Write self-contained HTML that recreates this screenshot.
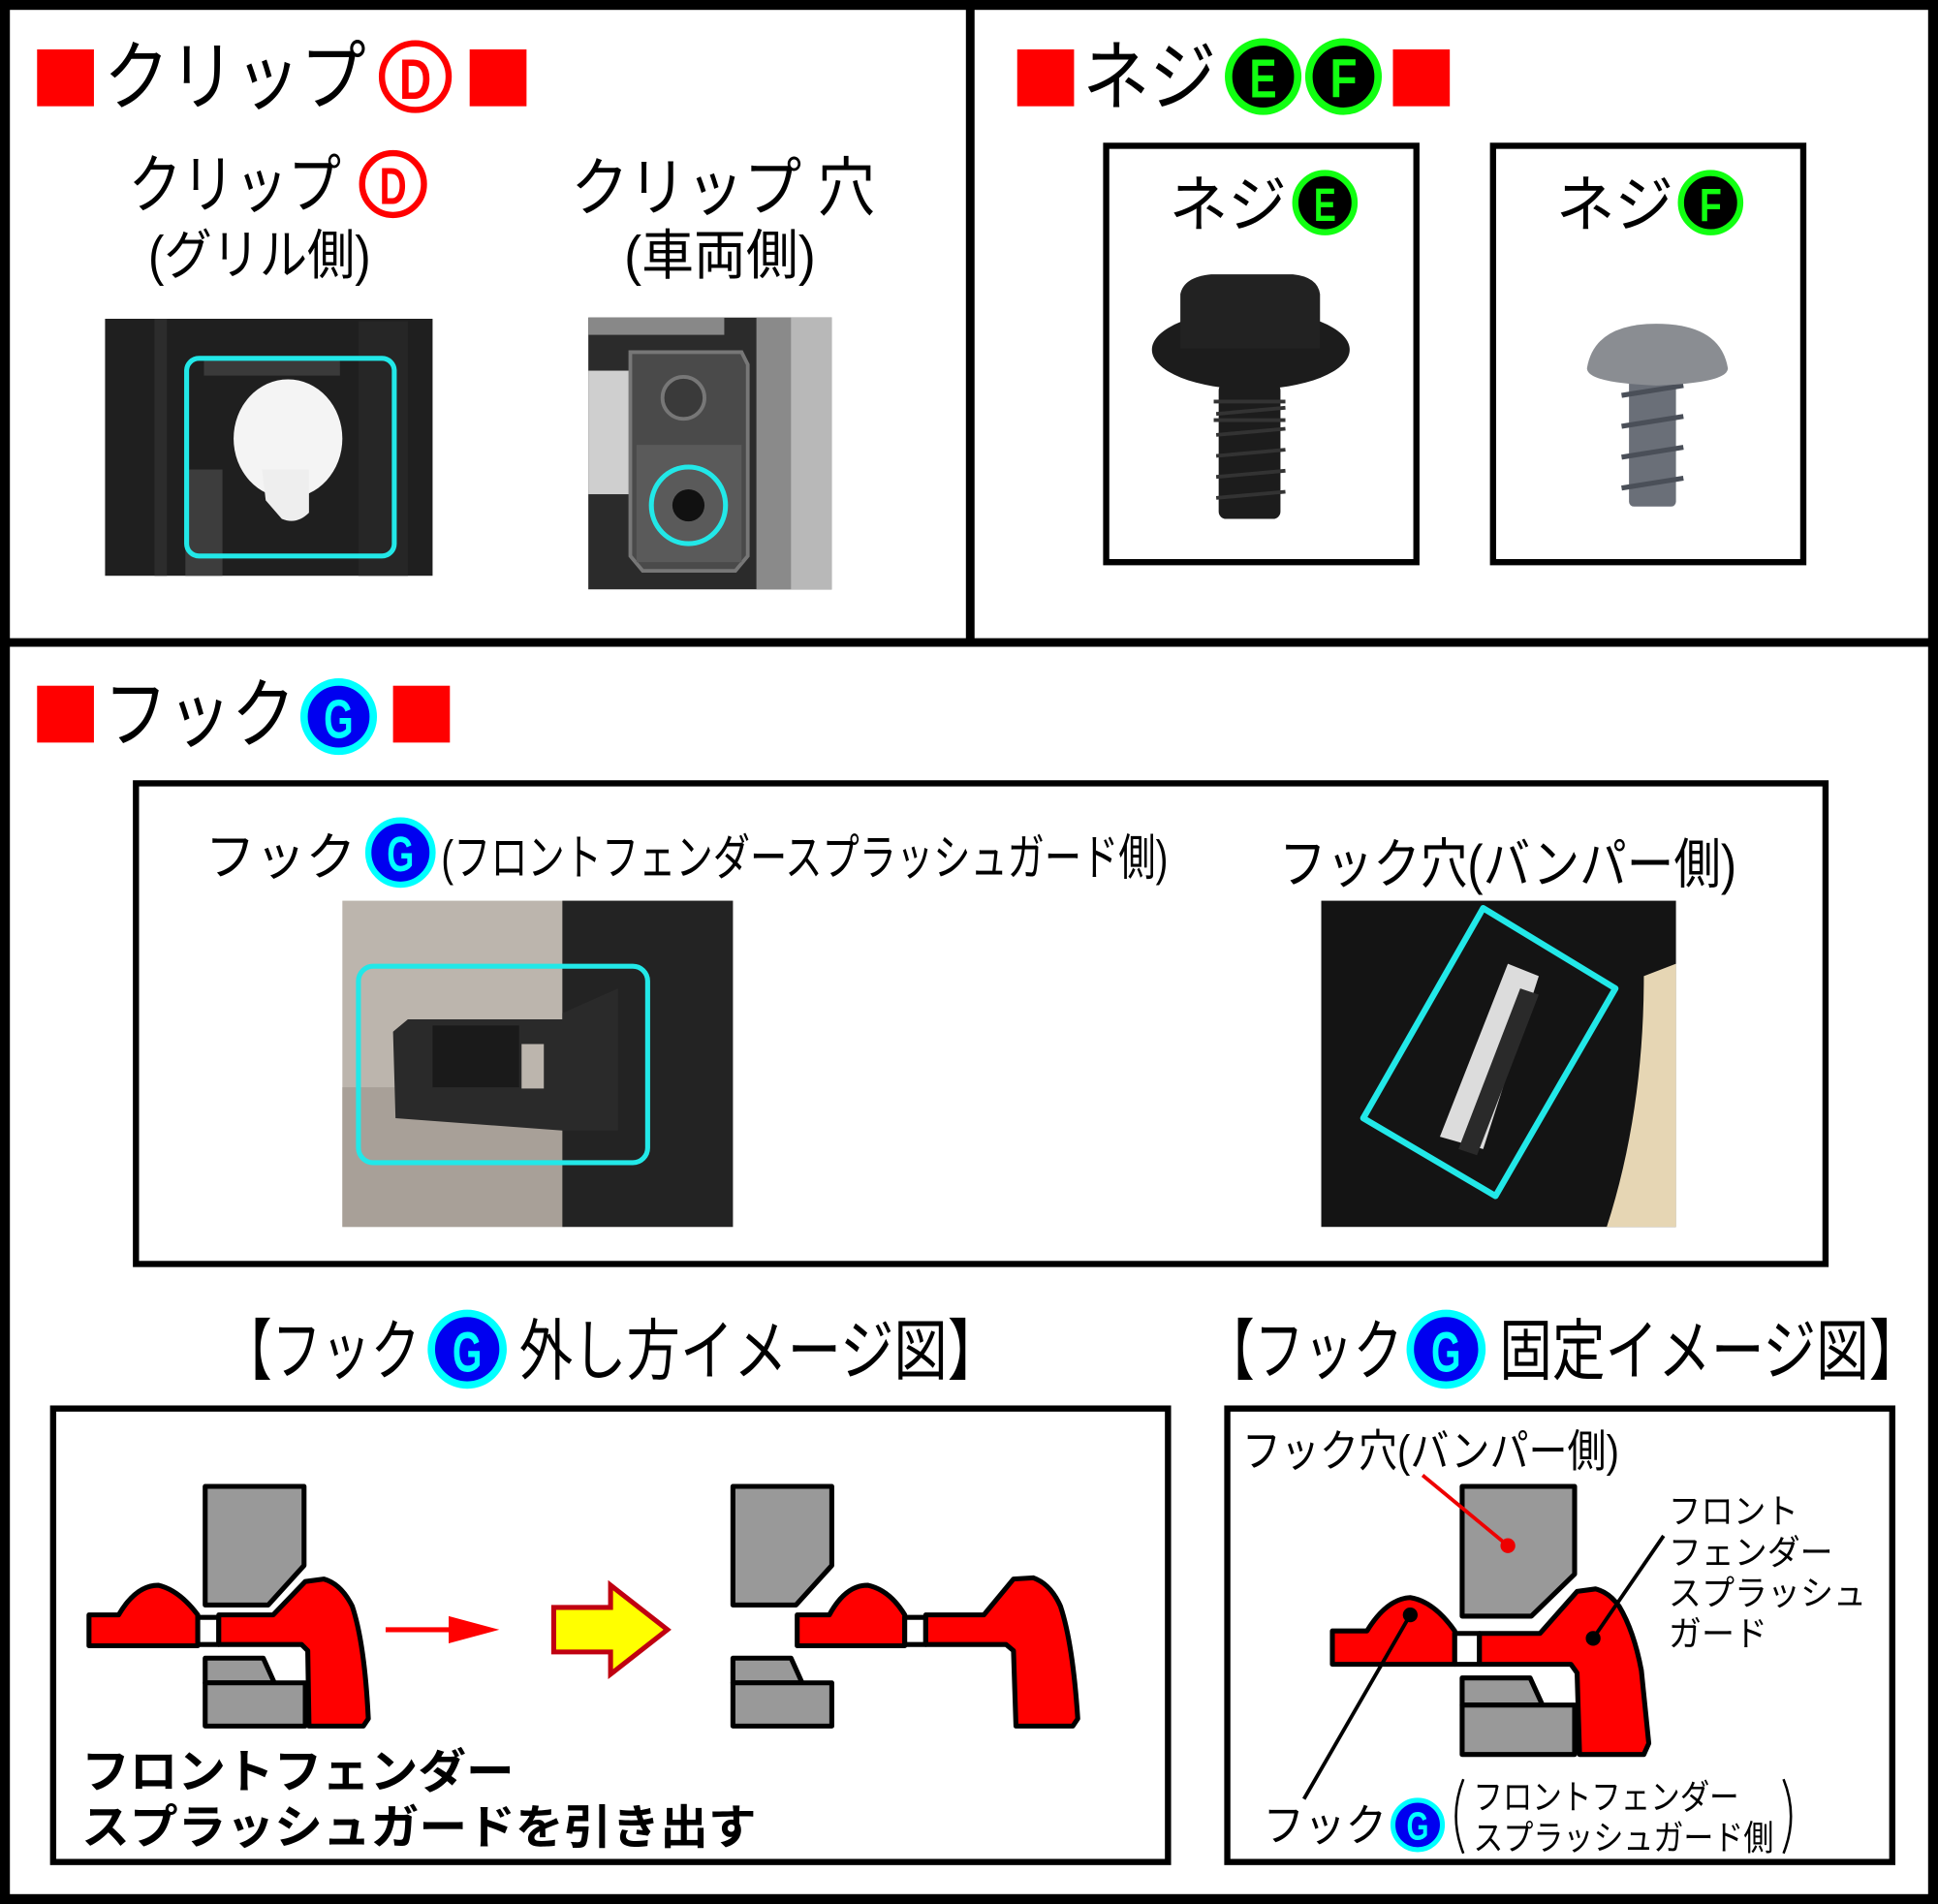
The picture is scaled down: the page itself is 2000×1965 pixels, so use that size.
<!DOCTYPE html>
<html><head><meta charset="utf-8"><style>
html,body{margin:0;padding:0;background:#fff}
svg{display:block}
text{font-family:"Liberation Sans","Noto Sans CJK JP",sans-serif}
</style></head><body>
<svg width="2000" height="1965" viewBox="0 0 1568 1541" preserveAspectRatio="none" xmlns="http://www.w3.org/2000/svg">
<rect x="0" y="0" width="1568" height="1541" fill="#fff"/>
<rect x="4" y="4" width="1560" height="1533" fill="none" stroke="#000" stroke-width="8"/>
<line x1="785" y1="4" x2="785" y2="520" stroke="#000" stroke-width="7"/>
<line x1="4" y1="520" x2="1564" y2="520" stroke="#000" stroke-width="7"/>

<rect x="30" y="40" width="46" height="46" fill="#f00"/>
<text x="84" y="84" font-size="62" textLength="212" lengthAdjust="spacingAndGlyphs">クリップ</text>
<circle cx="336" cy="62" r="27" fill="#fff" stroke="#f00" stroke-width="5"/>
<text x="336" y="80" font-size="46" font-weight="bold" fill="#f00" text-anchor="middle" textLength="26" lengthAdjust="spacingAndGlyphs">D</text>
<rect x="380" y="40" width="46" height="46" fill="#f00"/>

<text x="104" y="168" font-size="52" textLength="172" lengthAdjust="spacingAndGlyphs">クリップ</text>
<circle cx="318" cy="149" r="25" fill="#fff" stroke="#f00" stroke-width="5"/>
<text x="318" y="165" font-size="42" font-weight="bold" fill="#f00" text-anchor="middle" textLength="22" lengthAdjust="spacingAndGlyphs">D</text>
<text x="120" y="222" font-size="44" textLength="180" lengthAdjust="spacingAndGlyphs">(グリル側)</text>
<text x="462" y="170" font-size="52" textLength="246" lengthAdjust="spacingAndGlyphs">クリップ 穴</text>
<text x="505" y="222" font-size="44" textLength="155" lengthAdjust="spacingAndGlyphs">(車両側)</text>

<rect x="85" y="258" width="265" height="208" fill="#1f1f1f"/>
<rect x="125" y="258" width="10" height="208" fill="#2c2c2c"/>
<rect x="165" y="290" width="110" height="14" fill="#3a3a3a"/>
<rect x="150" y="380" width="30" height="86" fill="#3d3d3d"/>
<rect x="290" y="260" width="40" height="206" fill="#262626"/>
<ellipse cx="233" cy="355" rx="44" ry="48" fill="#f4f4f4"/>
<path d="M212 380 L250 380 L250 415 Q240 425 228 420 L215 405 Z" fill="#eeeeee"/>
<rect x="151" y="290" width="168" height="160" rx="10" fill="none" stroke="#22e8e8" stroke-width="4"/>

<rect x="476" y="257" width="197" height="220" fill="#2b2b2b"/>
<rect x="476" y="257" width="110" height="14" fill="#888"/>
<rect x="476" y="300" width="40" height="100" fill="#cfcfcf"/>
<path d="M510 285 L600 285 L605 295 L605 450 L595 462 L520 462 L510 450 Z" fill="#4a4a4a" stroke="#777" stroke-width="3"/>
<rect x="515" y="360" width="85" height="95" fill="#5a5a5a"/>
<rect x="612" y="257" width="61" height="220" fill="#8a8a8a"/>
<rect x="640" y="257" width="33" height="220" fill="#b8b8b8"/>
<circle cx="553" cy="322" r="17" fill="#3a3a3a" stroke="#777" stroke-width="3"/>
<circle cx="557" cy="409" r="13" fill="#111"/>
<ellipse cx="557" cy="409" rx="30" ry="31" fill="none" stroke="#22e8e8" stroke-width="4"/>

<rect x="823" y="40" width="46" height="46" fill="#f00"/>
<text x="876" y="84" font-size="62" textLength="108" lengthAdjust="spacingAndGlyphs">ネジ</text>
<circle cx="1022" cy="62" r="28" fill="#000" stroke="#1f1" stroke-width="6"/>
<text x="1022" y="79" font-size="44" font-weight="bold" fill="#1f1" text-anchor="middle" textLength="22" lengthAdjust="spacingAndGlyphs">E</text>
<circle cx="1087" cy="62" r="28" fill="#000" stroke="#1f1" stroke-width="6"/>
<text x="1087" y="79" font-size="44" font-weight="bold" fill="#1f1" text-anchor="middle" textLength="22" lengthAdjust="spacingAndGlyphs">F</text>
<rect x="1127" y="40" width="46" height="46" fill="#f00"/>

<rect x="895" y="118" width="251" height="337" fill="none" stroke="#000" stroke-width="5"/>
<rect x="1208" y="118" width="251" height="337" fill="none" stroke="#000" stroke-width="5"/>
<text x="946" y="183" font-size="50" textLength="95" lengthAdjust="spacingAndGlyphs">ネジ</text>
<circle cx="1072" cy="164" r="24" fill="#000" stroke="#1f1" stroke-width="5"/>
<text x="1072" y="179" font-size="38" font-weight="bold" fill="#1f1" text-anchor="middle" textLength="18" lengthAdjust="spacingAndGlyphs">E</text>
<text x="1259" y="183" font-size="50" textLength="95" lengthAdjust="spacingAndGlyphs">ネジ</text>
<circle cx="1384" cy="164" r="24" fill="#000" stroke="#1f1" stroke-width="5"/>
<text x="1384" y="179" font-size="38" font-weight="bold" fill="#1f1" text-anchor="middle" textLength="18" lengthAdjust="spacingAndGlyphs">F</text>

<!-- screw E -->
<g fill="#1c1c1c">
<rect x="986" y="310" width="50" height="110" rx="6"/>
<path d="M982 325 h58 M982 340 h58" stroke="#333" stroke-width="3"/>
<ellipse cx="1012" cy="283" rx="80" ry="32"/>
<path d="M955 238 Q958 224 980 222 L1046 222 Q1066 224 1068 238 L1068 282 L955 282 Z" fill="#222"/>
</g>
<g stroke="#333" stroke-width="3">
<line x1="984" y1="335" x2="1040" y2="330"/><line x1="984" y1="352" x2="1040" y2="347"/>
<line x1="984" y1="369" x2="1040" y2="364"/><line x1="984" y1="386" x2="1040" y2="381"/>
<line x1="984" y1="403" x2="1040" y2="398"/>
</g>
<!-- screw F -->
<rect x="1318" y="300" width="38" height="110" rx="4" fill="#6a6f78"/>
<g stroke="#4a4f58" stroke-width="4">
<line x1="1312" y1="320" x2="1362" y2="312"/><line x1="1312" y1="345" x2="1362" y2="337"/>
<line x1="1312" y1="370" x2="1362" y2="362"/><line x1="1312" y1="395" x2="1362" y2="387"/>
</g>
<path d="M1284 298 Q1290 262 1340 262 Q1392 262 1398 298 Q1398 310 1340 312 Q1284 310 1284 298 Z" fill="#8a8d92"/>

<rect x="30" y="555" width="46" height="46" fill="#f00"/>
<text x="84" y="600" font-size="62" textLength="155" lengthAdjust="spacingAndGlyphs">フック</text>
<circle cx="274" cy="580" r="28" fill="#0000f0" stroke="#0ff" stroke-width="6"/>
<text x="274" y="597" font-size="44" font-weight="bold" fill="#0ff" text-anchor="middle" textLength="24" lengthAdjust="spacingAndGlyphs">G</text>
<rect x="318" y="555" width="46" height="46" fill="#f00"/>

<rect x="110" y="634" width="1367" height="389" fill="none" stroke="#000" stroke-width="5"/>
<text x="166" y="708" font-size="42" textLength="122" lengthAdjust="spacingAndGlyphs">フック</text>
<circle cx="324" cy="690" r="26" fill="#0000f0" stroke="#0ff" stroke-width="5"/>
<text x="324" y="705" font-size="40" font-weight="bold" fill="#0ff" text-anchor="middle" textLength="22" lengthAdjust="spacingAndGlyphs">G</text>
<text x="357" y="708" font-size="40" textLength="588" lengthAdjust="spacingAndGlyphs">(フロントフェンダースプラッシュガード側)</text>
<text x="1035" y="715" font-size="44" textLength="370" lengthAdjust="spacingAndGlyphs">フック穴(バンパー側)</text>

<rect x="277" y="729" width="316" height="264" fill="#bcb5ad"/>
<rect x="277" y="880" width="180" height="113" fill="#a8a098"/>
<rect x="455" y="729" width="138" height="264" fill="#232323"/>
<path d="M330 825 L455 825 L455 820 L500 800 L500 915 L455 915 L320 905 L318 835 Z" fill="#2a2a2a"/>
<path d="M350 830 L420 830 L420 880 L350 880 Z" fill="#1a1a1a"/>
<rect x="422" y="845" width="18" height="36" fill="#bcb5ad"/>
<rect x="290" y="782" width="234" height="159" rx="12" fill="none" stroke="#22e8e8" stroke-width="4"/>

<rect x="1069" y="729" width="287" height="264" fill="#141414"/>
<path d="M1330 790 L1356 780 L1356 993 L1300 993 Q1330 900 1330 790 Z" fill="#e6d6b4"/>
<path d="M1220 780 L1245 790 L1200 930 L1165 920 Z" fill="#dcdcdc"/>
<path d="M1230 800 L1245 805 L1195 935 L1180 930 Z" fill="#2a2a2a"/>
<path d="M1200 735 L1307 800 L1210 968 L1103 905 Z" fill="none" stroke="#22e8e8" stroke-width="5" stroke-linejoin="round"/>

<text x="180" y="1112" font-size="54" textLength="160" lengthAdjust="spacingAndGlyphs">【フック</text>
<circle cx="378" cy="1092" r="29" fill="#0000f0" stroke="#0ff" stroke-width="6"/>
<text x="378" y="1110" font-size="46" font-weight="bold" fill="#0ff" text-anchor="middle" textLength="24" lengthAdjust="spacingAndGlyphs">G</text>
<text x="420" y="1112" font-size="54" textLength="390" lengthAdjust="spacingAndGlyphs">外し方イメージ図】</text>
<text x="975" y="1112" font-size="54" textLength="160" lengthAdjust="spacingAndGlyphs">【フック</text>
<circle cx="1170" cy="1092" r="29" fill="#0000f0" stroke="#0ff" stroke-width="6"/>
<text x="1170" y="1110" font-size="46" font-weight="bold" fill="#0ff" text-anchor="middle" textLength="24" lengthAdjust="spacingAndGlyphs">G</text>
<text x="1213" y="1112" font-size="54" textLength="342" lengthAdjust="spacingAndGlyphs">固定イメージ図】</text>

<rect x="43" y="1140" width="902" height="367" fill="none" stroke="#000" stroke-width="5"/>
<g stroke="#000" stroke-width="4" stroke-linejoin="round">
<path d="M166 1203 L246 1203 L246 1267 L217 1299 L166 1299 Z" fill="#999"/>
<path d="M166 1342 L213 1342 L222 1362 L166 1362 Z" fill="#999"/>
<rect x="166" y="1362" width="81" height="35" fill="#999"/>
<path d="M72 1307 L96 1307 Q110 1283 128 1283 Q145 1287 160 1307 L160 1332 L72 1332 Z" fill="#f00"/>
<rect x="160" y="1309" width="17" height="22" fill="#fff"/>
<path d="M177 1307 L221 1307 L247 1280 L262 1278 Q276 1282 285 1300 Q295 1330 298 1391 L294 1397 L250 1397 L249 1336 L244 1331 L177 1331 Z" fill="#f00"/>
<path d="M593 1203 L673 1203 L673 1267 L644 1299 L593 1299 Z" fill="#999"/>
<path d="M593 1342 L640 1342 L649 1362 L593 1362 Z" fill="#999"/>
<rect x="593" y="1362" width="80" height="35" fill="#999"/>
<path d="M645 1307 L671 1307 Q684 1283 702 1283 Q720 1287 732 1307 L732 1332 L645 1332 Z" fill="#f00"/>
<rect x="732" y="1309" width="17" height="22" fill="#fff"/>
<path d="M749 1307 L796 1307 L820 1278 L836 1277 Q850 1282 858 1300 Q868 1330 872 1391 L868 1397 L822 1397 L820 1336 L814 1331 L749 1331 Z" fill="#f00"/>
</g>
<line x1="312" y1="1319" x2="365" y2="1319" stroke="#f00" stroke-width="4"/>
<path d="M363 1308 L404 1319 L363 1330 Z" fill="#f00"/>
<path d="M448 1301 L494 1301 L494 1283 L540 1319 L494 1355 L494 1337 L448 1337 Z" fill="#ff0" stroke="#c00010" stroke-width="4"/>
<text x="66" y="1447" font-size="38" font-weight="bold" textLength="350" lengthAdjust="spacingAndGlyphs">フロントフェンダー</text>
<text x="66" y="1492" font-size="38" font-weight="bold" textLength="546" lengthAdjust="spacingAndGlyphs">スプラッシュガードを引き出す</text>

<rect x="993" y="1140" width="538" height="367" fill="none" stroke="#000" stroke-width="5"/>
<text x="1005" y="1187" font-size="36" textLength="305" lengthAdjust="spacingAndGlyphs">フック穴(バンパー側)</text>
<g stroke="#000" stroke-width="4" stroke-linejoin="round">
<path d="M1183 1203 L1274 1203 L1274 1274 L1239 1308 L1183 1308 Z" fill="#999"/>
<path d="M1183 1358 L1238 1358 L1248 1380 L1183 1380 Z" fill="#999"/>
<rect x="1183" y="1380" width="91" height="40" fill="#999"/>
<path d="M1078 1320 L1106 1320 Q1122 1294 1141 1293 Q1160 1296 1177 1320 L1177 1347 L1078 1347 Z" fill="#f00"/>
<rect x="1177" y="1322" width="20" height="25" fill="#fff"/>
<path d="M1197 1322 L1246 1322 L1276 1288 L1291 1286 Q1302 1289 1310 1300 Q1322 1320 1328 1352 L1334 1411 L1330 1420 L1278 1420 L1276 1354 L1271 1347 L1197 1347 Z" fill="#f00"/>
</g>
<line x1="1151" y1="1194" x2="1220" y2="1251" stroke="#e00" stroke-width="3"/>
<circle cx="1220" cy="1251" r="6" fill="#e00"/>
<line x1="1346" y1="1243" x2="1289" y2="1326" stroke="#000" stroke-width="3"/>
<circle cx="1289" cy="1326" r="6" fill="#000"/>
<line x1="1055" y1="1456" x2="1141" y2="1307" stroke="#000" stroke-width="3"/>
<circle cx="1141" cy="1307" r="6" fill="#000"/>
<text x="1350" y="1233" font-size="28" textLength="105" lengthAdjust="spacingAndGlyphs">フロント</text>
<text x="1350" y="1266" font-size="28" textLength="133" lengthAdjust="spacingAndGlyphs">フェンダー</text>
<text x="1350" y="1299" font-size="28" textLength="160" lengthAdjust="spacingAndGlyphs">スプラッシュ</text>
<text x="1350" y="1332" font-size="28" textLength="80" lengthAdjust="spacingAndGlyphs">ガード</text>
<text x="1022" y="1490" font-size="36" textLength="100" lengthAdjust="spacingAndGlyphs">フック</text>
<circle cx="1147" cy="1477" r="20" fill="#0000f0" stroke="#0ff" stroke-width="4"/>
<text x="1147" y="1489" font-size="32" font-weight="bold" fill="#0ff" text-anchor="middle" textLength="18" lengthAdjust="spacingAndGlyphs">G</text>
<path d="M1184 1440 Q1172 1470 1184 1500" fill="none" stroke="#000" stroke-width="2"/>
<path d="M1443 1440 Q1455 1470 1443 1500" fill="none" stroke="#000" stroke-width="2"/>
<text x="1192" y="1464" font-size="28" textLength="215" lengthAdjust="spacingAndGlyphs">フロントフェンダー</text>
<text x="1192" y="1497" font-size="28" textLength="243" lengthAdjust="spacingAndGlyphs">スプラッシュガード側</text>
</svg>
</body></html>
